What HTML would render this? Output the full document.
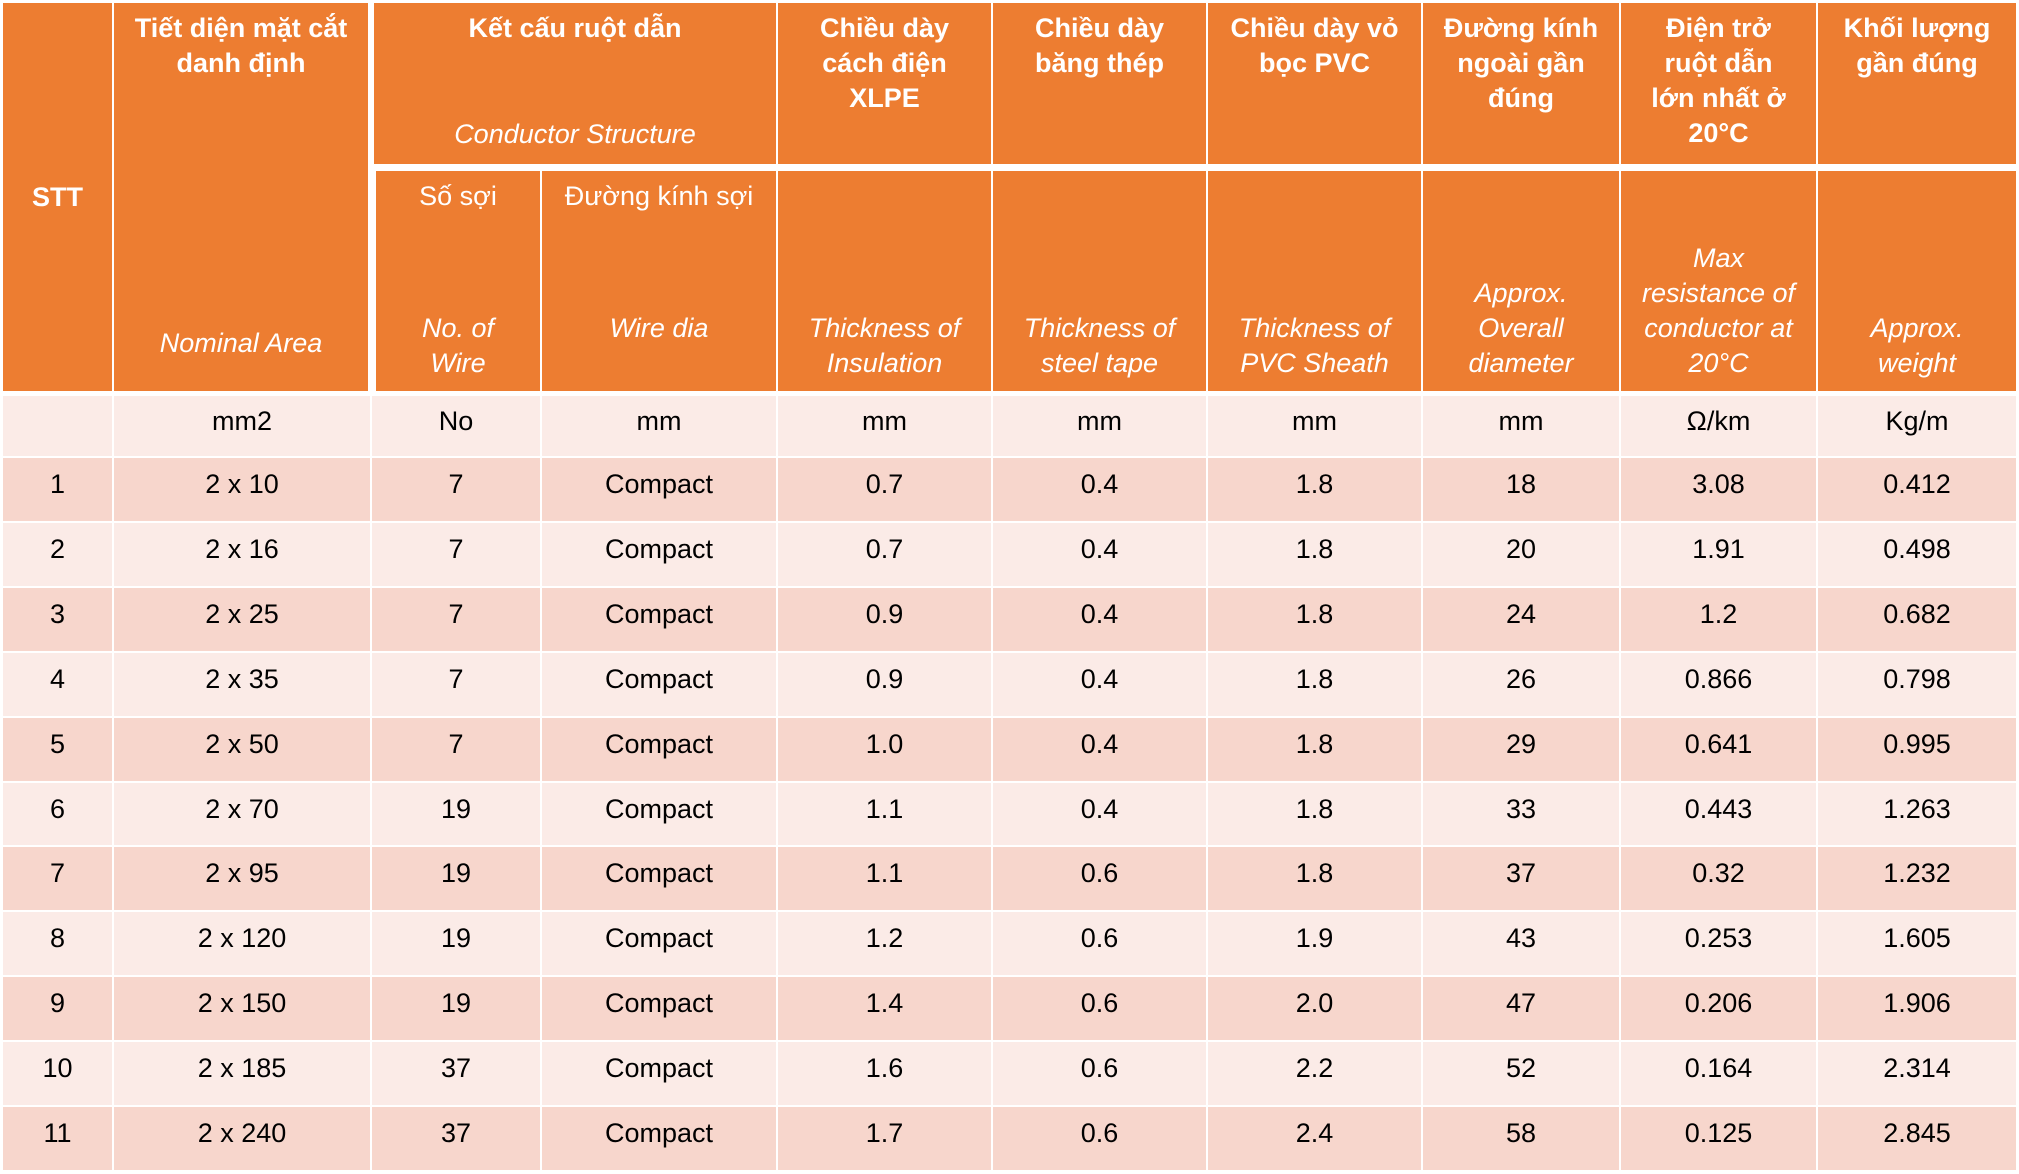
<!DOCTYPE html>
<html><head><meta charset="utf-8">
<style>
body{margin:0;width:2019px;height:1174px;background:#fff;overflow:hidden;font-family:"Liberation Sans","DejaVu Sans",sans-serif;}
#t{position:absolute;left:0;top:0;width:2019px;height:1174px;}
.c{position:absolute;box-sizing:border-box;display:flex;flex-direction:column;align-items:center;text-align:center;}
.h{background:#ED7D31;color:#fff;font-size:27px;line-height:35px;}
.b{font-weight:bold;}
.i{font-style:italic;}
.d{justify-content:center;font-size:27px;color:#000;padding-bottom:10px;}
</style></head>
<body>
<div id="t"></div>
<script>
const colX=[2,113,371,541,777,992,1207,1422,1620,1817,2017];
const units=["","mm2","No","mm","mm","mm","mm","mm","Ω/km","Kg/m"];
const stt=["1","2","3","4","5","6","7","8","9","10","11"];
const area=["2 x 10","2 x 16","2 x 25","2 x 35","2 x 50","2 x 70","2 x 95","2 x 120","2 x 150","2 x 185","2 x 240"];
const wires=["7","7","7","7","7","19","19","19","19","37","37"];
const wireDia=["Compact","Compact","Compact","Compact","Compact","Compact","Compact","Compact","Compact","Compact","Compact"];
const insul=["0.7","0.7","0.9","0.9","1.0","1.1","1.1","1.2","1.4","1.6","1.7"];
const steel=["0.4","0.4","0.4","0.4","0.4","0.4","0.6","0.6","0.6","0.6","0.6"];
const sheath=["1.8","1.8","1.8","1.8","1.8","1.8","1.8","1.9","2.0","2.2","2.4"];
const diam=["18","20","24","26","29","33","37","43","47","52","58"];
const resist=["3.08","1.91","1.2","0.866","0.641","0.443","0.32","0.253","0.206","0.164","0.125"];
const weight=["0.412","0.498","0.682","0.798","0.995","1.263","1.232","1.605","1.906","2.314","2.845"];
const T=document.getElementById('t');
function cell(x1,y1,x2,y2,cls,html,name,bg,extra){
  const d=document.createElement('div');
  d.className='c '+cls;
  d.style.left=(x1+1)+'px';d.style.top=(y1+1)+'px';
  d.style.width=(x2-x1-2)+'px';d.style.height=(y2-y1-2)+'px';
  if(bg)d.style.background=bg;
  if(extra)Object.assign(d.style,extra);
  d.innerHTML=html;
  
  
  T.appendChild(d);return d;
}
const top2=(b,i,pb)=>`<div class="b">${b}</div><div style="flex:1"></div><div class="i">${i}</div>`;
const H0=2,HS=167,HB=392;
// STT
cell(colX[0],H0,colX[1],HB,'h b',"STT",'stt-header',null,{justifyContent:'center'});
cell(colX[1],H0,colX[2]-2,HB,'h',top2("Tiết diện mặt cắt<br>danh định","Nominal Area"),'nominal-area-header',null,{padding:'8px 4px 30px'});
cell(colX[2]+2,H0,colX[4],HS-2,'h',top2("Kết cấu ruột dẫn","Conductor Structure"),'conductor-structure-header',null,{padding:'8px 4px 12px'});
cell(colX[2]+4,HS+3,colX[3],HB,'h',top2("Số sợi","No. of<br>Wire").replace('class="b"','')  ,'no-of-wire-header',null,{padding:'8px 4px 10px'});
cell(colX[3],HS+3,colX[4],HB,'h',top2("Đường kính sợi","Wire dia").replace('class="b"','')+'<div class="i">&nbsp;</div>','wire-dia-header',null,{padding:'8px 4px 10px'});
const tops=["Chiều dày<br>cách điện<br>XLPE","Chiều dày<br>băng thép","Chiều dày vỏ<br>bọc PVC","Đường kính<br>ngoài gần<br>đúng","Điện trở<br>ruột dẫn<br>lớn nhất ở<br>20°C","Khối lượng<br>gần đúng"];
const bots=["Thickness of<br>Insulation","Thickness of<br>steel tape","Thickness of<br>PVC Sheath","Approx.<br>Overall<br>diameter","Max<br>resistance of<br>conductor at<br>20°C","Approx.<br>weight"];
const hn=["insulation","steel-tape","pvc-sheath","overall-diameter","max-resistance","weight"];
for(let k=0;k<6;k++){
  const c=4+k;
  cell(colX[c],H0,colX[c+1],HS-2,'h b',tops[k],hn[k]+'-header-vi',null,{padding:'8px 4px'});
  cell(colX[c],HS+3,colX[c+1],HB,'h i',bots[k],hn[k]+'-header-en',null,{justifyContent:'flex-end',padding:'0 4px 10px'});
}
// units row
const UY=392,UB=457,RH=64.9;
units.forEach((u,c)=>cell(colX[c],UY+3,colX[c+1],UB,'d',u,'unit-'+c,'#FBEBE7'));
const cols=[stt,area,wires,wireDia,insul,steel,sheath,diam,resist,weight];
const cn=["stt","area","wires","wire-dia","insulation","steel","sheath","diameter","resistance","weight"];
for(let r=0;r<stt.length;r++){
  const y1=Math.round(UB+r*RH),y2=Math.round(UB+(r+1)*RH);
  const bg=r%2===0?'#F7D6CC':'#FBEBE7';
  for(let c=0;c<10;c++){
    cell(colX[c],y1,colX[c+1],y2,'d',cols[c][r],cn[c]+'-row-'+(r+1),bg);
  }
}
</script>
</body></html>
